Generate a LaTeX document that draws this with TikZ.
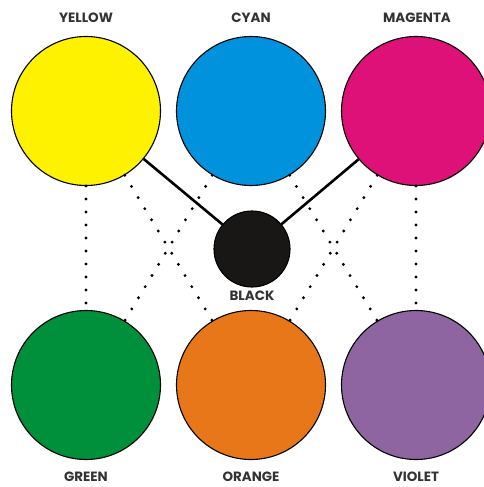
\documentclass[tikz,border=0pt]{standalone}
\usepackage{fontspec}
\setmainfont{Poppins}
\usepackage{xcolor}
\usetikzlibrary{positioning}

\definecolor{inkyellow}{RGB}{255,242,0}
\definecolor{inkcyan}{RGB}{0,146,221}
\definecolor{inkmagenta}{RGB}{222,17,120}
\definecolor{inkgreen}{RGB}{0,143,58}
\definecolor{inkorange}{RGB}{232,119,25}
\definecolor{inkviolet}{RGB}{142,101,160}
\definecolor{inkblack}{RGB}{25,22,22}

\begin{document}
\begin{tikzpicture}[
    x=1bp, y=-1bp,
    disc/.style={circle, draw=black, line width=1.1bp, minimum size=149bp, inner sep=0pt},
    smalldisc/.style={disc, minimum size=76bp},
    colname/.style={font=\fontsize{13.5}{15}\selectfont\bfseries, text=black!80, inner sep=0pt},
    solidlink/.style={line width=2.6bp},
    dotlink/.style={line width=3.2bp, line cap=round, dash pattern=on 0pt off 13bp}
]

\useasboundingbox (0,0) rectangle (484,487);
\clip (0,0) rectangle (484,487);

\node (yellow) [disc, fill=inkyellow] at (86,111) {};
\node (cyan) [disc, fill=inkcyan] at (251,111) {};
\node (magenta) [disc, fill=inkmagenta] at (416,111) {};
\node (black) [smalldisc, fill=inkblack] at (252,249) {};
\node (green) [disc, fill=inkgreen] at (86,385) {};
\node (orange) [disc, fill=inkorange] at (251,385) {};
\node (violet) [disc, fill=inkviolet] at (416,385) {};

\node (yellowlbl) [colname] at (86,18) {YELLOW};
\node (cyanlbl) [colname] at (251,18) {CYAN};
\node (magentalbl) [colname] at (417,18) {MAGENTA};
\node (blacklbl) [colname] at (252,296) {BLACK};
\node (greenlbl) [colname] at (86,477) {GREEN};
\node (orangelbl) [colname] at (251,477) {ORANGE};
\node (violetlbl) [colname] at (416,477) {VIOLET};

\draw [solidlink] (yellow) -- (black);
\draw [solidlink] (magenta) -- (black);

\draw [dotlink] (yellow) -- (green);
\draw [dotlink] (yellow) -- (orange);
\draw [dotlink] (cyan) -- (green);
\draw [dotlink] (cyan) -- (violet);
\draw [dotlink] (magenta) -- (orange);
\draw [dotlink] (magenta) -- (violet);

\end{tikzpicture}
\end{document}
